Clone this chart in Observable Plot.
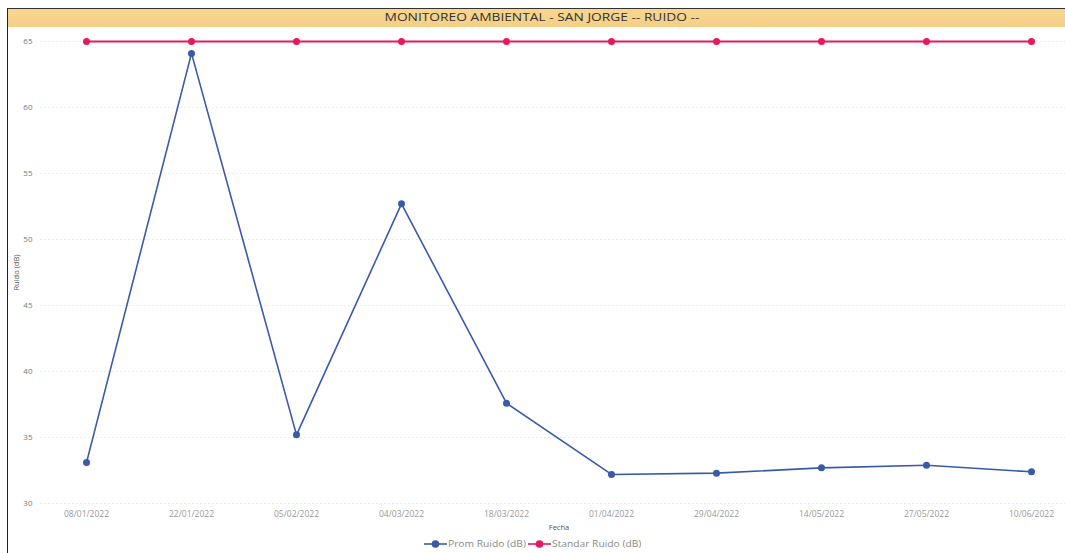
<!DOCTYPE html>
<html>
<head>
<meta charset="utf-8">
<script src="https://cdn.jsdelivr.net/npm/d3@7"></script>
<script src="https://cdn.jsdelivr.net/npm/@observablehq/plot@0.6"></script>
<style>
  html, body { margin: 0; padding: 0; background: #fff; width: 1065px; height: 553px; overflow: hidden; }
  #frame { position: absolute; left: 7px; top: 8px; right: 0; bottom: 0; border-left: 1.5px solid #222; border-top: 1px solid #333; }
  #title { position: absolute; left: 8px; top: 9px; right: 0; height: 18px; line-height: 18px;
           background: linear-gradient(#f8d58e, #f6cf86); text-align: center;
           font: 11px "Open Sans", sans-serif; color: #333; }
  #title span { display: inline-block; transform: scaleX(1.25); margin-left: 10px; }
  #chart { position: absolute; left: 0; top: 27px; }
  #legend { position: absolute; left: 0; top: 537px; width: 1065px; text-align: center;
            font: 9.5px "Open Sans", sans-serif; color: #8a8a8a; }
  #legend span.item { display: inline-flex; align-items: center; margin: 0 1px; }
  #legend span.txt { display: inline-block; transform: scaleX(1.08); transform-origin: left center; margin-right: 6px; }
  #legend svg { margin-right: 1px; }
  g[aria-label="x-axis label"] text, g[aria-label="y-axis label"] text { font-size: 7.5px; fill: #555; }
</style>
</head>
<body>
<div id="frame"></div>
<div id="title"><span>MONITOREO AMBIENTAL - SAN JORGE -- RUIDO --</span></div>
<div id="chart"></div>
<div id="legend"></div>
<script>
// Noise monitoring dates and measured averages (dB)
const fechas = ["08/01/2022", "22/01/2022", "05/02/2022", "04/03/2022", "18/03/2022",
                "01/04/2022", "29/04/2022", "14/05/2022", "27/05/2022", "10/06/2022"];
const promRuido = [33.1, 64.1, 35.2, 52.7, 37.6, 32.2, 32.3, 32.7, 32.9, 32.4];
const standarRuido = [65, 65, 65, 65, 65, 65, 65, 65, 65, 65];
const yTicks = [30, 35, 40, 45, 50, 55, 60, 65];

const colorProm = "#3a5aa8";
const colorStd = "#e8195a";

const prom = fechas.map((f, i) => ({fecha: f, valor: promRuido[i]}));
const std = fechas.map((f, i) => ({fecha: f, valor: standarRuido[i]}));

const chart = Plot.plot({
  width: 1065,
  height: 508,
  marginLeft: 85,
  marginRight: 33,
  marginTop: 14,
  marginBottom: 32,
  style: {fontFamily: "Open Sans, sans-serif", background: "transparent"},
  x: {type: "point", domain: fechas, padding: 0},
  y: {domain: [30, 65]},
  marks: [
    Plot.gridY(yTicks, {stroke: "#e6e6e6", strokeOpacity: 1, strokeDasharray: "1.5,2.5", insetLeft: -45, insetRight: -33}),
    Plot.axisY(yTicks, {tickSize: 0, tickPadding: 53, fontSize: 8, fill: "#777",
                        label: "Ruido (dB)", labelAnchor: "center", labelOffset: 72, labelArrow: "none"}),
    Plot.axisX({tickSize: 0, tickPadding: 7, fontSize: 8.5, fill: "#9a9a9a",
                label: "Fecha", labelAnchor: "center", labelOffset: 26, labelArrow: "none"}),
    Plot.line(std, {x: "fecha", y: "valor", stroke: colorStd, strokeWidth: 2}),
    Plot.dot(std, {x: "fecha", y: "valor", r: 3.5, fill: colorStd}),
    Plot.line(prom, {x: "fecha", y: "valor", stroke: colorProm, strokeWidth: 1.6}),
    Plot.dot(prom, {x: "fecha", y: "valor", r: 3.5, fill: colorProm})
  ]
});
document.getElementById("chart").appendChild(chart);

// Legend: line–dot symbols for each series
const series = [
  {name: "Prom Ruido (dB)", color: colorProm},
  {name: "Standar Ruido (dB)", color: colorStd}
];
const legend = document.getElementById("legend");
for (const s of series) {
  const item = document.createElement("span");
  item.className = "item";
  item.innerHTML = `<svg width="23" height="10"><line x1="0" y1="5" x2="23" y2="5" stroke="${s.color}" stroke-width="1.6"/><circle cx="11.5" cy="5" r="3.8" fill="${s.color}"/></svg><span class="txt">${s.name}</span>`;
  legend.appendChild(item);
}
</script>
</body>
</html>
